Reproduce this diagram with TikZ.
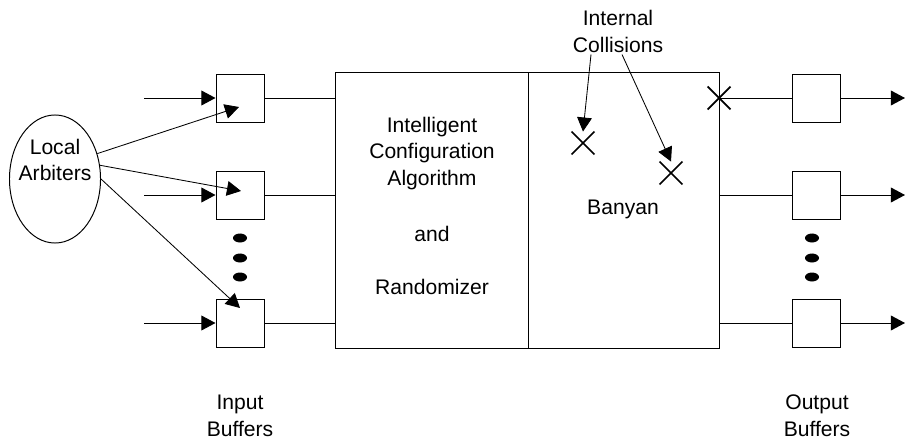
\documentclass[tikz,border=0pt]{standalone}
\usepackage{fontspec}
\setmainfont{Liberation Sans}
\usetikzlibrary{shapes,arrows,arrows.meta,positioning,calc}

\begin{document}
\begin{tikzpicture}[auto, x=0.025cm, y=-0.025cm, >={Triangle[length=10pt,width=10.5pt]}, line width=0.7pt,
  every node/.style={font=\fontsize{15}{19}\selectfont},
  buffer/.style={draw, minimum size=1.2cm, inner sep=0},
  block/.style={draw, minimum width=4.8cm, minimum height=6.875cm, inner sep=0, outer sep=0},
  clash/.style={cross out, draw, line width=1.2pt, minimum size=0.53cm, inner sep=0},
  blob/.style={ellipse, fill, minimum width=0.35cm, minimum height=0.225cm, inner sep=0}]
\useasboundingbox (0,0) rectangle (906,439);

% switch fabric
\node[block] (ica) at (432,210.5) {};
\node[block, minimum width=4.775cm, right=0pt of ica] (ban) {};
\node[align=center] (icatext) at (432,153.5) {Intelligent\\Configuration\\Algorithm};
\node (andtext) at (432,234) {and};
\node (randtext) at (432,287) {Randomizer};
\node (bantext) at (623,209) {Banyan};

% local arbiters
\node[ellipse, draw, minimum width=2.275cm, minimum height=3.2cm, inner sep=0] (arb) at (55,179) {};
\node[align=center] (arbtext) at (55,160) {Local\\Arbiters};

% input buffers
\foreach \i/\y in {1/98, 2/195, 3/323} {
  \node[buffer] (in\i) at (240,\y) {};
  \coordinate (src\i) at (144,\y);
  \draw[->] (src\i) -- (in\i.west);
  \draw (in\i.east) -- (in\i -| ica.west);
}

% arbiter requests
\coordinate (req1) at (239,107);
\coordinate (req2) at (241,191);
\coordinate (req3) at (240,308);
\draw[->, line width=0.6pt] (arb.31) -- (req1);
\draw[->, line width=0.6pt] (arb.17) -- (req2);
\draw[->, line width=0.6pt] (arb.east) -- (req3);

% output buffers
\foreach \i/\y in {1/98, 2/195, 3/323} {
  \node[buffer] (out\i) at (816,\y) {};
  \coordinate (snk\i) at (905,\y);
  \draw (out\i -| ban.east) -- (out\i.west);
  \draw[->] (out\i.east) -- (snk\i);
}

% dots
\foreach \y in {238, 258, 277} {
  \node[blob] (dotin\y) at (240,\y) {};
  \node[blob] (dotout\y) at (812,\y) {};
}

% collisions
\node[clash] (hit0) at (out1 -| ban.east) {};
\node[clash] (hit1) at (583,143) {};
\node[clash] (hit2) at (671,173) {};
\node[align=center, inner sep=1pt] (coll) at (618,31.5) {Internal\\Collisions};
\draw[->, line width=0.6pt] ($(coll.south)+(-27,0)$) -- (hit1.north);
\draw[->, line width=0.6pt] ($(coll.south)+(4,0)$) -- (hit2.north);

% labels
\node[align=center] (inlabel) at (240,416) {Input\\Buffers};
\node[align=center] (outlabel) at (817,416) {Output\\Buffers};

\end{tikzpicture}
\end{document}
